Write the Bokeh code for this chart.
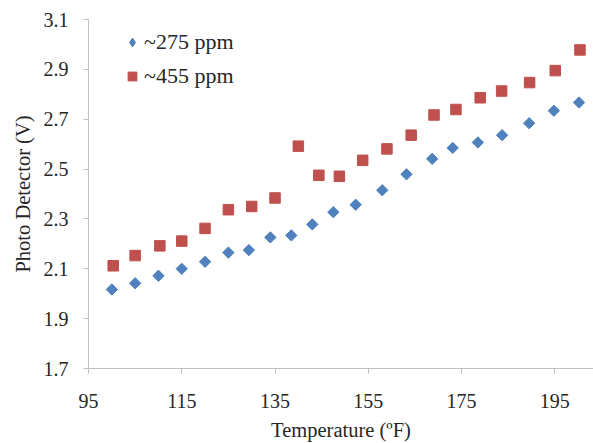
from bokeh.plotting import figure
from bokeh.models import Range1d, FixedTicker, Legend, LegendItem, ColumnDataSource
from bokeh.embed import file_html
from bokeh.resources import INLINE
import math

# Data
temp_275 = [100, 105, 110, 115, 120, 125, 129.4, 134, 138.5, 143, 147.5, 152.3,
            158, 163.2, 168.7, 173.1, 178.5, 183.7, 189.5, 194.8, 200.2]
volt_275 = [2.017, 2.042, 2.072, 2.100, 2.128, 2.165, 2.175, 2.226, 2.234, 2.278, 2.327, 2.357,
            2.415, 2.479, 2.541, 2.585, 2.607, 2.636, 2.684, 2.734, 2.767]

temp_455 = [100.3, 105, 110.3, 115, 120, 125, 130, 135, 140, 144.4, 148.8, 153.8,
            159, 164.2, 169.1, 173.8, 179, 183.6, 189.6, 195.1, 200.4]
volt_455 = [2.112, 2.153, 2.192, 2.211, 2.262, 2.337, 2.350, 2.384, 2.592, 2.475, 2.471, 2.535,
            2.581, 2.636, 2.717, 2.739, 2.786, 2.813, 2.847, 2.895, 2.978]

x_ticks = [95, 115, 135, 155, 175, 195]
y_ticks = [1.7, 1.9, 2.1, 2.3, 2.5, 2.7, 2.9, 3.1]
label_275 = "~275 ppm"
label_455 = "~455 ppm"
x_title = "Temperature (ºF)"
y_title = "Photo Detector (V)"

FONT = "Liberation Serif"
TEXT = "#262626"
AXIS = "#c0c0c0"
BLUE = "#4f81bd"
RED = "#c0504d"

p = figure(width=593, height=443, output_backend="svg", toolbar_location=None,
           x_range=Range1d(95, 203.3), y_range=Range1d(1.7, 3.1))
p.min_border_left = 88
p.min_border_right = 0
p.min_border_top = 19
p.min_border_bottom = 75
p.outline_line_color = None
p.xgrid.visible = False
p.ygrid.visible = False
p.background_fill_color = "white"
p.border_fill_color = "white"

src275 = ColumnDataSource(dict(x=temp_275, y=volt_275))
src455 = ColumnDataSource(dict(x=temp_455, y=volt_455))

r1 = p.scatter("x", "y", source=src275, marker="square", size=8, angle=math.pi / 4,
               fill_color=BLUE, line_color=BLUE)
r2 = p.scatter("x", "y", source=src455, marker="square", size=10.5,
               fill_color=RED, line_color=RED)
# legend-only key glyph for the diamond series (holds no visible data)
nan = float("nan")
r1_key = p.scatter(x=[nan], y=[nan], marker="diamond", size=10,
                   fill_color=BLUE, line_color=BLUE)

for ax in (p.xaxis[0], p.yaxis[0]):
    ax.axis_line_color = AXIS
    ax.major_tick_line_color = AXIS
    ax.minor_tick_line_color = None
    ax.major_tick_out = 5
    ax.major_tick_in = 0
    ax.major_label_text_font = FONT
    ax.major_label_text_font_size = "20px"
    ax.major_label_text_color = TEXT
    ax.axis_label_text_font = FONT
    ax.axis_label_text_font_size = "20.5px"
    ax.axis_label_text_font_style = "normal"
    ax.axis_label_text_color = TEXT

p.xaxis.ticker = FixedTicker(ticks=x_ticks)
p.yaxis.ticker = FixedTicker(ticks=y_ticks)
p.xaxis.axis_label = x_title
p.yaxis.axis_label = y_title
p.xaxis.major_label_standoff = 20
p.xaxis.axis_label_standoff = 8
p.yaxis.major_label_standoff = 15
p.yaxis.axis_label_standoff = 7

legend = Legend(items=[LegendItem(label=label_275, renderers=[r1_key]),
                       LegendItem(label=label_455, renderers=[r2])],
                location=(33, 279))
legend.padding = 0
legend.margin = 0
legend.spacing = 8
legend.glyph_width = 22
legend.glyph_height = 24
legend.label_height = 22
legend.label_standoff = 1
legend.label_text_font = FONT
legend.label_text_font_size = "22px"
legend.label_text_color = TEXT
legend.border_line_color = None
legend.background_fill_alpha = 0
p.add_layout(legend)

open("out.html", "w").write(file_html(p, INLINE))
